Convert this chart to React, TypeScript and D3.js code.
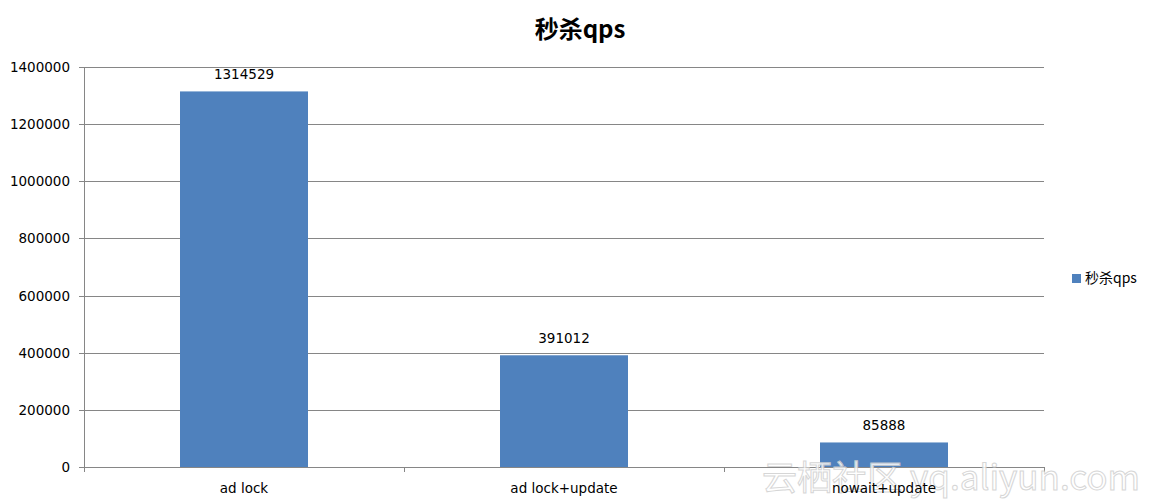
import * as d3 from "d3";

const categories = ["ad lock", "ad lock+update", "nowait+update"];
const qpsValues = [1314529, 391012, 85888];
const yTicks = [0, 200000, 400000, 600000, 800000, 1000000, 1200000, 1400000];
const seriesName = "秒杀qps";
const chartTitle = "秒杀qps";

const W = 1152;
const H = 504;
const margin = { top: 67, right: 108, bottom: 37, left: 84 };
const innerW = W - margin.left - margin.right;
const innerH = H - margin.top - margin.bottom;
const barColor = "#4F81BD";
const gridColor = "#868686";
const font = "'DejaVu Sans', Verdana, sans-serif";

function App() {
    const x = d3.scaleBand().domain(categories).range([0, innerW]).padding(0);
    const y = d3.scaleLinear().domain([0, 1400000]).range([innerH, 0]);
    const barW = x.bandwidth() * 0.4;

    return (
        <div style={{ position: "fixed", left: 0, top: 0 }}>
            <svg width={W} height={H} style={{ display: "block", background: "#fff" }}>
                <text x={580} y={38} textAnchor="middle" fontSize={24} fontWeight="bold"
                    fontFamily="'Noto Sans CJK SC', sans-serif" fill="#000">{chartTitle}</text>
                <g transform={`translate(${margin.left},${margin.top})`}>
                    {/* gridlines + y ticks */}
                    {yTicks.map(t => (
                        <g key={t} transform={`translate(0,${Math.round(y(t)) + 0.5})`}>
                            <line x1={-5} x2={innerW} stroke={gridColor} strokeWidth={1} />
                            <text x={-14} dy="0.35em" textAnchor="end" fontSize={13.5}
                                fontFamily={font} fill="#000">{t}</text>
                        </g>
                    ))}
                    <line x1={0.5} x2={0.5} y1={0} y2={innerH + 5} stroke={gridColor} />
                    {/* x ticks */}
                    {[...categories.map(c => x(c) as number), innerW].map((p, i) => (
                        <line key={i} x1={Math.round(p) + 0.5} x2={Math.round(p) + 0.5}
                            y1={innerH} y2={innerH + 5} stroke={gridColor} />
                    ))}
                    {categories.map((c, i) => (
                        <rect key={c} x={(x(c) as number) + x.bandwidth() / 2 - barW / 2} y={y(qpsValues[i])}
                            width={barW} height={innerH - y(qpsValues[i])} fill={barColor} />
                    ))}
                </g>
                {/* watermark sits under the labels */}
                <text x={762} y={490} fontSize={34} textLength={378} lengthAdjust="spacingAndGlyphs"
                    fontFamily="'Noto Sans CJK SC', sans-serif"
                    fill="#fff" stroke="#d0d0d0" strokeWidth={1} opacity={0.85}>云栖社区 yq.aliyun.com</text>
                <g transform={`translate(${margin.left},${margin.top})`}>
                    {categories.map((c, i) => {
                        const cx = (x(c) as number) + x.bandwidth() / 2;
                        return (
                            <g key={c}>
                                <text x={cx} y={y(qpsValues[i]) - 12} textAnchor="middle" fontSize={13.5}
                                    fontFamily={font} fill="#000">{qpsValues[i]}</text>
                                <text x={cx} y={innerH + 26} textAnchor="middle" fontSize={13.5}
                                    fontFamily={font} fill="#000">{c}</text>
                            </g>
                        );
                    })}
                </g>
                {/* legend */}
                <rect x={1072} y={274} width={9} height={9} fill={barColor} />
                <text x={1085} y={283} fontSize={14} fontFamily="'Noto Sans CJK SC', sans-serif" fill="#000">{seriesName}</text>
            </svg>
        </div>
    );
}

export default App;
